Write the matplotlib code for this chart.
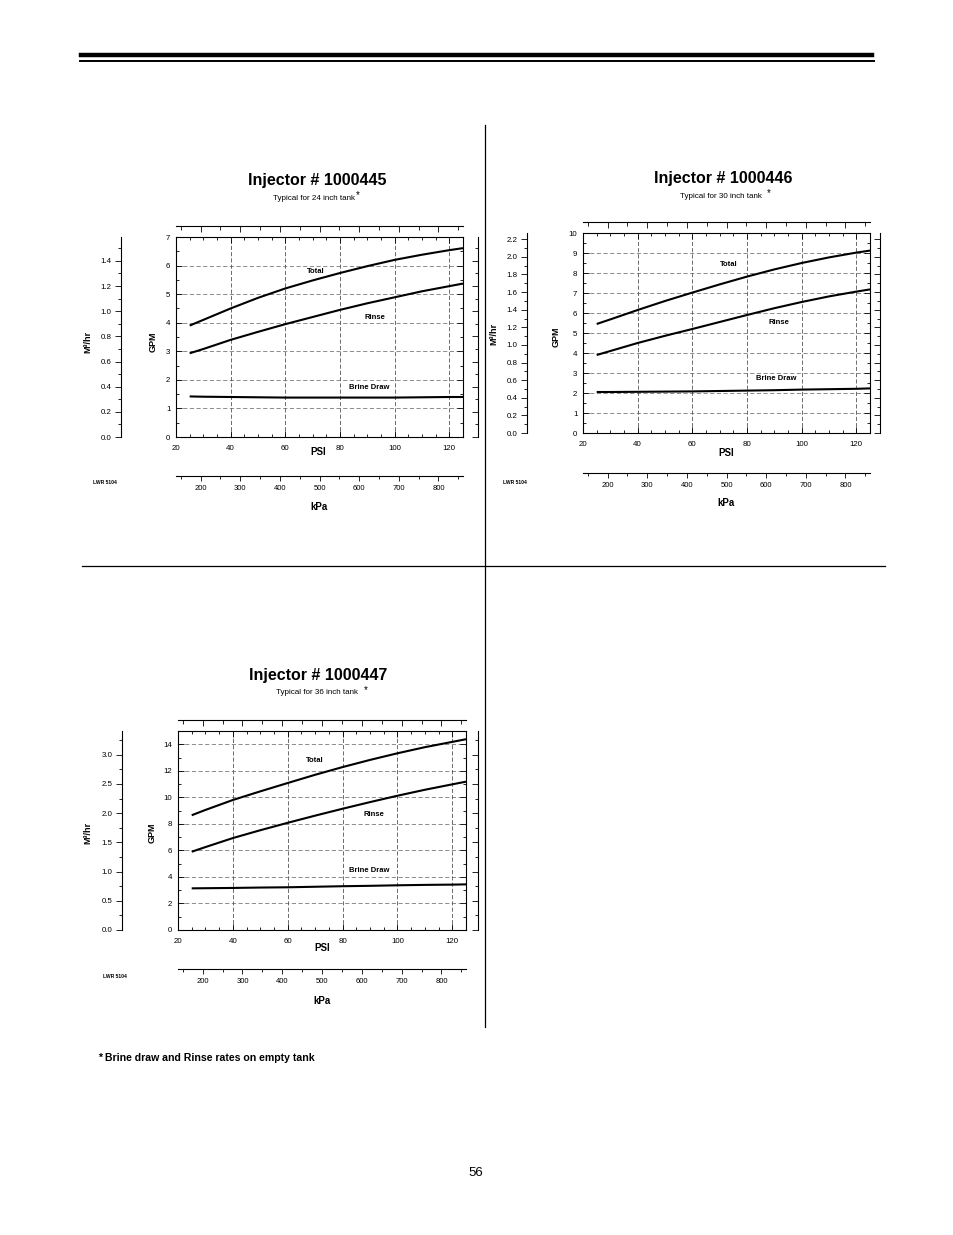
import numpy as np
import matplotlib
matplotlib.use('Agg')
import matplotlib.pyplot as plt
from matplotlib.ticker import FixedLocator
from matplotlib.lines import Line2D

plt.rcParams['font.family'] = ['Liberation Sans', 'DejaVu Sans']

W, H = 954, 1235

# ---------------- data ----------------
psi = [25, 30, 40, 50, 60, 70, 80, 90, 100, 110, 120, 125]

total_445 = [3.90, 4.10, 4.50, 4.87, 5.20, 5.48, 5.74, 5.98, 6.20, 6.38, 6.54, 6.61]
rinse_445 = [2.93, 3.08, 3.40, 3.68, 3.95, 4.20, 4.45, 4.68, 4.89, 5.10, 5.28, 5.37]
brine_445 = [1.42, 1.41, 1.40, 1.39, 1.38, 1.38, 1.38, 1.38, 1.38, 1.39, 1.40, 1.40]

total_446 = [5.45, 5.68, 6.15, 6.60, 7.02, 7.43, 7.82, 8.18, 8.50, 8.78, 9.02, 9.12]
rinse_446 = [3.90, 4.10, 4.50, 4.86, 5.20, 5.55, 5.90, 6.24, 6.55, 6.83, 7.07, 7.18]
brine_446 = [2.05, 2.05, 2.06, 2.07, 2.08, 2.10, 2.12, 2.14, 2.17, 2.19, 2.21, 2.23]

total_447 = [8.65, 9.05, 9.80, 10.45, 11.08, 11.70, 12.28, 12.82, 13.32, 13.78, 14.18, 14.38]
rinse_447 = [5.90, 6.25, 6.93, 7.52, 8.08, 8.62, 9.14, 9.64, 10.12, 10.57, 10.98, 11.18]
brine_447 = [3.14, 3.15, 3.17, 3.20, 3.22, 3.26, 3.30, 3.33, 3.37, 3.40, 3.42, 3.44]

titles = ["Injector # 1000445", "Injector # 1000446", "Injector # 1000447"]
subtitles = ["Typical for 24 inch tank", "Typical for 30 inch tank ", "Typical for 36 inch tank "]
psi_ticks = [20, 40, 60, 80, 100, 120]
kpa_ticks = [200, 300, 400, 500, 600, 700, 800]
kpa_minor = [150, 250, 350, 450, 550, 650, 750, 850]
series_names = ["Total", "Rinse", "Brine Draw"]

GPM_TO_M3H = 0.2271
PSI_TO_KPA = 6.894757

fig = plt.figure(figsize=(W / 100, H / 100), dpi=100)


def fx(x):
    return x / W


def fy(y):
    return 1 - y / H


def ftext(x, y, s, **kw):
    fig.text(fx(x), fy(y), s, **kw)


def make_chart(cfg):
    l, t, r, b = cfg['plot']
    ax = fig.add_axes([fx(l), fy(b), (r - l) / W, (b - t) / H])
    pw, ph = r - l, b - t
    ymax = cfg['ymax']
    ax.set_xlim(20, 125)
    ax.set_ylim(0, ymax)

    # grid
    for g in cfg['ygrid']:
        ax.axhline(g, color='#7a7a7a', lw=0.6, dashes=(5, 3), zorder=1)
    for g in psi_ticks[1:]:
        ax.axvline(g, color='#555555', lw=0.6, dashes=(5, 2.5), zorder=1)

    # curves
    for vals in (cfg['total'], cfg['rinse'], cfg['brine']):
        ax.plot(psi, vals, color='black', lw=1.5, zorder=3, solid_capstyle='butt',
                solid_joinstyle='round')

    # curve labels
    for name, (px, py) in zip(series_names, cfg['labels']):
        ax.text(px, py, name, fontsize=5.5, fontweight='bold', ha='center', va='center')

    # main ticks
    ax.set_xticks(psi_ticks)
    ax.set_xticks(np.arange(20, 126, 5), minor=True)
    ax.set_yticks(cfg['yticks'])
    ax.set_yticks(cfg['yminor'], minor=True)
    ax.tick_params(which='both', direction='in', top=True, right=True,
                   labeltop=False, labelright=False, width=0.6, labelsize=5.7)
    ax.tick_params(which='major', length=4)
    ax.tick_params(which='minor', length=2.5)
    ax.tick_params(axis='x', pad=6)
    ax.tick_params(axis='y', pad=4)
    for s in ax.spines.values():
        s.set_linewidth(0.8)

    f_m3 = (lambda y: y * GPM_TO_M3H, lambda y: y / GPM_TO_M3H)
    f_kpa = (lambda x: x * PSI_TO_KPA, lambda x: x / PSI_TO_KPA)

    # left M3/hr axis
    left_loc = (cfg['m3_left'] - l) / pw
    sl = ax.secondary_yaxis(left_loc, functions=f_m3)
    sl.set_yticks(cfg['m3_ticks'])
    sl.set_yticklabels([f"{v:.1f}" for v in cfg['m3_ticks']])
    sl.yaxis.set_minor_locator(FixedLocator(cfg['m3_minor']))
    sl.tick_params(which='both', direction='out', width=0.6, labelsize=5.7, pad=3)
    sl.tick_params(which='major', length=4)
    sl.tick_params(which='minor', length=2.5)
    sl.spines['left'].set_linewidth(0.8)

    # right M3/hr axis (no labels)
    right_loc = (cfg['m3_right'] - l) / pw
    sr = ax.secondary_yaxis(right_loc, functions=f_m3)
    sr.set_yticks(cfg['m3_ticks'])
    sr.yaxis.set_minor_locator(FixedLocator(cfg['m3_minor']))
    sr.tick_params(which='both', direction='in', width=0.6, labelright=False, labelleft=False)
    sr.tick_params(which='major', length=4)
    sr.tick_params(which='minor', length=2.5)
    sr.spines['right'].set_linewidth(0.8)

    # top kPa tick axis (no labels)
    top_loc = 1 + (t - cfg['top_axis']) / ph
    st = ax.secondary_xaxis(top_loc, functions=f_kpa)
    st.set_xticks(kpa_ticks)
    st.xaxis.set_minor_locator(FixedLocator(kpa_minor))
    st.tick_params(which='both', direction='in', width=0.6, labeltop=False, labelbottom=False)
    st.tick_params(which='major', length=4.5)
    st.tick_params(which='minor', length=3)
    st.spines['top'].set_linewidth(0.8)

    # bottom kPa axis
    bot_loc = -(cfg['kpa_axis'] - b) / ph
    sb = ax.secondary_xaxis(bot_loc, functions=f_kpa)
    sb.set_xticks(kpa_ticks)
    sb.set_xticklabels([str(v) for v in kpa_ticks])
    sb.xaxis.set_minor_locator(FixedLocator(kpa_minor))
    sb.tick_params(which='both', direction='out', width=0.6, labelsize=5.5, pad=3)
    sb.tick_params(which='major', length=3.5)
    sb.tick_params(which='minor', length=2)
    sb.spines['bottom'].set_linewidth(0.8)

    # texts
    tx, ty = cfg['title']
    ftext(tx, ty, cfg['title_s'], fontsize=11.5, fontweight='bold', ha='center', va='center')
    sx, sy = cfg['sub']
    ftext(sx, sy, cfg['sub_s'], fontsize=5.8, ha='center', va='center')
    ax_, ay_ = cfg['ast']
    ftext(ax_, ay_, '*', fontsize=7, ha='center', va='center')
    ftext(cfg['psi_lbl'][0], cfg['psi_lbl'][1], 'PSI', fontsize=7, fontweight='bold', ha='center', va='center')
    ftext(cfg['kpa_lbl'][0], cfg['kpa_lbl'][1], 'kPa', fontsize=7, fontweight='bold', ha='center', va='center')
    ftext(cfg['gpm_lbl'][0], cfg['gpm_lbl'][1], 'GPM', fontsize=6.5, fontweight='bold',
          ha='center', va='center', rotation=90)
    ftext(cfg['m3_lbl'][0], cfg['m3_lbl'][1], 'M³/hr', fontsize=6.5, fontweight='bold',
          ha='center', va='center', rotation=90)
    ftext(cfg['lwr'][0], cfg['lwr'][1], 'LWR 5104', fontsize=3.6, fontweight='bold',
          ha='left', va='center')
    return ax


charts = [
    dict(plot=(176, 237, 463, 437), ymax=7,
         yticks=list(range(0, 8)), yminor=list(np.arange(0.5, 7, 1.0)),
         ygrid=list(range(1, 7)),
         m3_ticks=[0.0, 0.2, 0.4, 0.6, 0.8, 1.0, 1.2, 1.4],
         m3_minor=[0.1, 0.3, 0.5, 0.7, 0.9, 1.1, 1.3, 1.5],
         m3_left=121, m3_right=478, top_axis=226, kpa_axis=476,
         total=total_445, rinse=rinse_445, brine=brine_445,
         labels=[(71.2, 5.81), (92.8, 4.17), (90.6, 1.72)],
         title=(317, 181), title_s=titles[0], sub=(314, 199), sub_s=subtitles[0],
         ast=(358, 195), psi_lbl=(318, 452), kpa_lbl=(319, 507),
         gpm_lbl=(153, 342), m3_lbl=(88, 342), lwr=(93, 482)),
    dict(plot=(583, 233, 870, 433), ymax=10,
         yticks=list(range(0, 11)), yminor=list(np.arange(0.5, 10, 1.0)),
         ygrid=list(range(1, 10)),
         m3_ticks=[0.0, 0.2, 0.4, 0.6, 0.8, 1.0, 1.2, 1.4, 1.6, 1.8, 2.0, 2.2],
         m3_minor=[0.1, 0.3, 0.5, 0.7, 0.9, 1.1, 1.3, 1.5, 1.7, 1.9, 2.1],
         m3_left=527, m3_right=880, top_axis=222, kpa_axis=473,
         total=total_446, rinse=rinse_446, brine=brine_446,
         labels=[(73.5, 8.45), (91.8, 5.55), (90.7, 2.7)],
         title=(723, 178), title_s=titles[1], sub=(722, 196), sub_s=subtitles[1],
         ast=(769, 193), psi_lbl=(726, 453), kpa_lbl=(726, 503),
         gpm_lbl=(556, 337), m3_lbl=(494, 334), lwr=(503, 482)),
    dict(plot=(178, 731, 466, 930), ymax=15,
         yticks=list(range(0, 15, 2)), yminor=list(range(1, 16, 2)),
         ygrid=list(range(2, 15, 2)),
         m3_ticks=[0.0, 0.5, 1.0, 1.5, 2.0, 2.5, 3.0],
         m3_minor=[0.25, 0.75, 1.25, 1.75, 2.25, 2.75, 3.25],
         m3_left=122, m3_right=478, top_axis=720, kpa_axis=969,
         total=total_447, rinse=rinse_447, brine=brine_447,
         labels=[(70.0, 12.74), (91.5, 8.74), (89.7, 4.45)],
         title=(318, 675), title_s=titles[2], sub=(318, 693), sub_s=subtitles[2],
         ast=(366, 690), psi_lbl=(322, 948), kpa_lbl=(322, 1001),
         gpm_lbl=(152, 833), m3_lbl=(88, 833), lwr=(103, 976)),
]

for c in charts:
    make_chart(c)

# page decorations
fig.add_artist(Line2D([fx(81), fx(872)], [fy(55), fy(55)], transform=fig.transFigure,
                      color='black', lw=3.2))
fig.add_artist(Line2D([fx(80), fx(874)], [fy(60.5), fy(60.5)], transform=fig.transFigure,
                      color='black', lw=1.4))
fig.add_artist(Line2D([fx(485), fx(485)], [fy(125), fy(1027)], transform=fig.transFigure,
                      color='black', lw=0.9))
fig.add_artist(Line2D([fx(82), fx(885)], [fy(566), fy(566)], transform=fig.transFigure,
                      color='black', lw=0.9))

ftext(98, 1058, '* Brine draw and Rinse rates on empty tank', fontsize=7.6,
      fontweight='bold', ha='left', va='center')
ftext(476, 1173, '56', fontsize=9.5, ha='center', va='center')

fig.savefig('out.png', dpi=100)
